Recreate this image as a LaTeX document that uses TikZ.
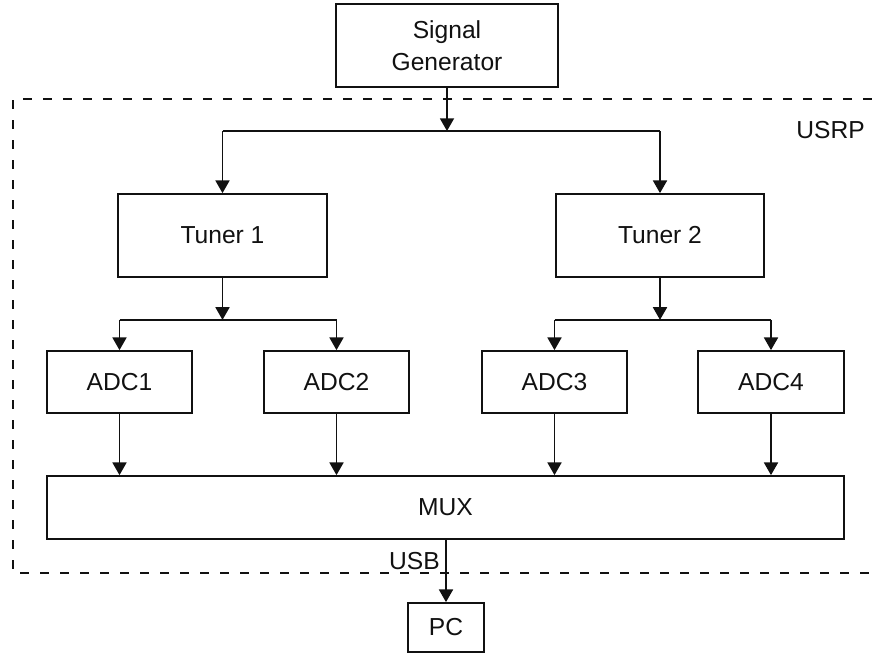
\documentclass[tikz,border=0pt]{standalone}
\usepackage{fontspec}
\setmainfont{Liberation Sans}
\usetikzlibrary{positioning, calc, arrows.meta}
\definecolor{ink}{HTML}{111111}
\newcommand{\LabelF}{\fontsize{21}{27}\selectfont}
\tikzset{
  box/.style={draw=ink, line width=1.5pt, inner sep=0pt, align=center, font=\LabelF, text=ink},
  arr/.style={draw=ink, line width=1.5pt, -{Triangle[length=3.8mm,width=4.2mm]}},
  wire/.style={draw=ink, line width=1.5pt},
  frame/.style={draw=ink, line width=1.2pt, dash pattern=on 2.6mm off 3.4mm},
  tag/.style={font=\LabelF, text=ink, inner sep=0pt},
}
\newcommand{\blk}[6]{%
  \node[box, minimum width=#4*0.3mm, minimum height=#5*0.3mm] (#1) at (#2,#3) {#6};
}

\begin{document}
\begin{tikzpicture}[x=0.3mm,y=-0.3mm]
\useasboundingbox (0,0) rectangle (872,660);
\draw[frame] (872,99) -- (13,99) -- (13,573) -- (872,573);
\blk{gen}{447}{45.5}{222}{83}{Signal\\Generator}
\blk{tun1}{222.5}{235.5}{209}{83}{Tuner 1}
\blk{tun2}{660}{235.5}{208}{83}{Tuner 2}
\blk{adc1}{119.5}{382}{145}{62}{ADC1}
\blk{adc2}{336.5}{382}{145}{62}{ADC2}
\blk{adc3}{554.5}{382}{145}{62}{ADC3}
\blk{adc4}{771}{382}{146}{62}{ADC4}
\blk{mux}{445.5}{507.5}{797}{63}{MUX}
\blk{pc}{446}{627.5}{76}{49}{PC}
\node[tag, anchor=east] (usrp) at (865,130) {USRP};
\coordinate (split) at (447,131);
\coordinate (fork1) at ($(tun1.south)+(0,42)$);
\coordinate (fork2) at ($(tun2.south)+(0,42)$);
\draw[arr] (gen) -- (split);
\draw[wire] (split -| tun1) -- (split -| tun2);
\draw[arr] (split -| tun1) -- (tun1);
\draw[arr] (split -| tun2) -- (tun2);
\draw[arr] (tun1) -- (fork1);
\draw[wire] (fork1 -| adc1) -- (fork1 -| adc2);
\draw[arr] (fork1 -| adc1) -- (adc1);
\draw[arr] (fork1 -| adc2) -- (adc2);
\draw[arr] (tun2) -- (fork2);
\draw[wire] (fork2 -| adc3) -- (fork2 -| adc4);
\draw[arr] (fork2 -| adc3) -- (adc3);
\draw[arr] (fork2 -| adc4) -- (adc4);
\foreach \a in {adc1,adc2,adc3,adc4}
  \draw[arr] (\a) -- (\a |- mux.north);
\draw[arr] (mux.south -| pc) -- (pc);
\node[tag, anchor=east] (usb) at ($(mux.south -| pc)+(-6,21)$) {USB};
\end{tikzpicture}
\end{document}
